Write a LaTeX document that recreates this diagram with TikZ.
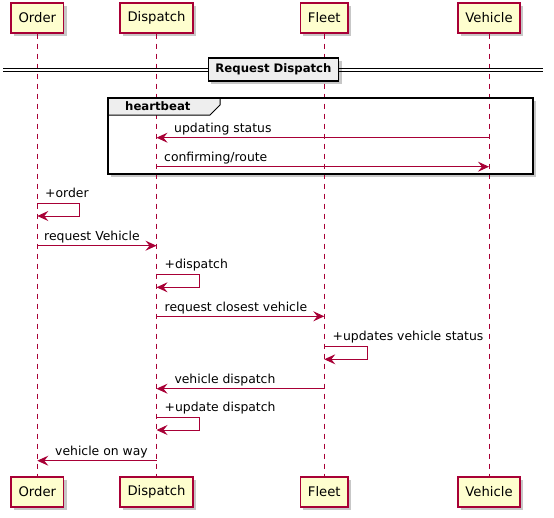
\documentclass[tikz,border=0pt]{standalone}
\usepackage{fontspec}
\setmainfont{DejaVu Sans}
\usetikzlibrary{arrows.meta}
\definecolor{umlred}{HTML}{A80036}
\definecolor{umlfill}{HTML}{FEFECE}
\definecolor{grpfill}{HTML}{EEEEEE}

\begin{document}
\begin{tikzpicture}[
  x=1pt, y=-1pt,
  font=\fontsize{12.4}{15}\selectfont,
  >={Stealth[length=11pt,width=10pt,inset=4pt]},
  shadowed/.style={preaction={fill=black, opacity=0.22,
    transform canvas={xshift=3pt, yshift=-3pt}}},
  party/.style={draw=umlred, fill=umlfill, rectangle, shadowed,
    minimum height=30pt, inner xsep=7.5pt, line width=1.4pt,
    font=\fontsize{13.2}{16}\selectfont},
  life/.style={draw=umlred, line width=0.8pt, dash pattern=on 5pt off 5pt},
  msg/.style={->, draw=umlred, line width=1pt},
  lbl/.style={anchor=base west, inner sep=0pt},
  frame/.style={draw=black, line width=1.8pt},
  tagtxt/.style={font=\bfseries\fontsize{11.7}{14}\selectfont},
  divider/.style={draw=black, fill=grpfill, rectangle, shadowed,
    line width=1.6pt, minimum height=23pt, inner xsep=7pt,
    font=\bfseries\fontsize{11.7}{14}\selectfont}
]
\useasboundingbox (0,0) rectangle (554,517);

% Participants, top and bottom
\node[party] (orderT) at (37.3,18) {Order};
\node[party] (dispatchT) at (156.5,18) {Dispatch};
\node[party] (fleetT) at (324.3,18) {Fleet};
\node[party] (vehicleT) at (489,18) {Vehicle};
\node[party] (orderB) at (37.3,492) {Order};
\node[party] (dispatchB) at (156.5,492) {Dispatch};
\node[party] (fleetB) at (324.3,492) {Fleet};
\node[party] (vehicleB) at (489,492) {Vehicle};

% Group frame behind the lifelines
\fill[white, shadowed] (108,98) rectangle (533,174);

% Lifelines
\draw[life] (orderT.south) -- (orderB.north);
\draw[life] (dispatchT.south) -- (dispatchB.north);
\draw[life] (fleetT.south) -- (fleetB.north);
\draw[life] (vehicleT.south) -- (vehicleB.north);

% Divider
\draw[line width=0.9pt] (3,68.5) -- (543,68.5) (3,71.5) -- (543,71.5);
\node[divider] (reqdisp) at (273.5,69.5) {Request Dispatch};

% heartbeat group
\draw[line width=1pt, fill=grpfill] (108,98) -- (220,98) -- (220,105)
  -- (210,115) -- (108,115) -- cycle;
\node[tagtxt, lbl] (heartbeat) at (125,110.5) {heartbeat};
\draw[frame] (108,98) rectangle (533,174);

\draw[msg] (vehicleT |- 0,137.7) -- (dispatchT |- 0,137.7);
\node[lbl] (updstatus) at (174,132.7) {updating status};
\draw[msg] (dispatchT |- 0,166.7) -- (vehicleT |- 0,166.7);
\node[lbl] (confirm) at (164,161.7) {confirming/route};

% Messages
\draw[msg] (orderT |- 0,203.3) -- ++(42,0) -- ++(0,12.7) -- (orderT |- 0,216);
\node[lbl] (plusorder) at (45,197.3) {+order};
\draw[msg] (orderT |- 0,245.7) -- (dispatchT |- 0,245.7);
\node[lbl] (reqvehicle) at (44,240.7) {request Vehicle};
\draw[msg] (dispatchT |- 0,274.3) -- ++(43,0) -- ++(0,13) -- (dispatchT |- 0,287.3);
\node[lbl] (plusdispatch) at (164.5,268.3) {+dispatch};
\draw[msg] (dispatchT |- 0,316.3) -- (fleetT |- 0,316.3);
\node[lbl] (reqclosest) at (164.5,311.3) {request closest vehicle};
\draw[msg] (fleetT |- 0,346.7) -- ++(43.4,0) -- ++(0,12.6) -- (fleetT |- 0,359.3);
\node[lbl] (plusupdates) at (332.5,340.7) {+updates vehicle status};
\draw[msg] (fleetT |- 0,388.7) -- (dispatchT |- 0,388.7);
\node[lbl] (vehdispatch) at (174.3,383.5) {vehicle dispatch};
\draw[msg] (dispatchT |- 0,417.7) -- ++(42.8,0) -- ++(0,12.3) -- (dispatchT |- 0,430);
\node[lbl] (plusupdate) at (164.5,411.7) {+update dispatch};
\draw[msg] (dispatchT |- 0,460.7) -- (orderT |- 0,460.7);
\node[lbl] (onway) at (55,455.5) {vehicle on way};

\end{tikzpicture}
\end{document}
